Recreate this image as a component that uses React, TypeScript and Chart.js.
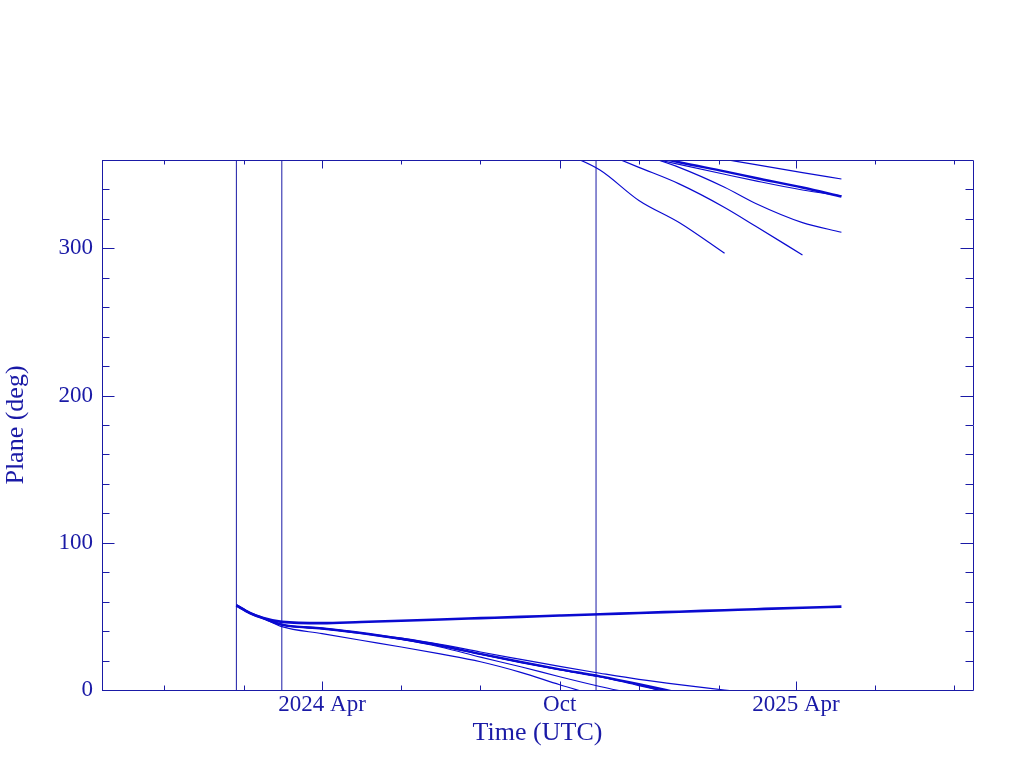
import { useEffect, useRef } from "react";
import { Chart, registerables } from "chart.js";

Chart.register(...registerables);

// ---------- data ----------
const dates = [
  "2024-01-26", "2024-02-05", "2024-02-15", "2024-03-01", "2024-04-01", "2024-05-01",
  "2024-06-01", "2024-07-01", "2024-08-01", "2024-09-01", "2024-10-01", "2024-11-01",
  "2024-12-01", "2025-01-01", "2025-02-05", "2025-03-01", "2025-04-06", "2025-05-06",
];

const planeE = [57.5, 52.5, 49.0, 46.3, 45.4, 46.2, 47.0, 47.9, 48.8, 49.7, 50.6, 51.5, 52.3, 53.2, 54.2, 54.9, 55.9, 56.6];

const planeALow = [57.5, 52.5, 49.0, 43.0, 38.3, 33.8, 29.2, 24.5, 19.2, 12.0, 3.6, -4.5, null, null, null, null, null, null];
const planeAHigh = [null, null, null, null, null, null, null, null, null, null, 366.0, 353.2, 332.5, 317.5, 296.6, null, null, null];

const planeBLow = [57.5, 52.5, 49.0, 44.2, 41.6, 38.3, 34.3, 29.2, 22.3, 15.8, 9.0, 2.4, -3.2, null, null, null, null, null];
const planeBHigh = [null, null, null, null, null, null, null, null, null, null, null, 365.9, 355.0, 343.8, 327.8, 315.0, 295.5, null];

const planeCLow = [57.5, 52.5, 49.0, 44.4, 41.8, 38.8, 34.8, 30.2, 24.5, 19.0, 14.0, 9.3, 4.0, -2.0, null, null, null, null];
const planeCHigh = [null, null, null, null, null, null, null, null, null, null, null, null, 364.7, 358.5, 352.3, 347.8, 341.3, 335.2];

const planeFLow = [57.5, 52.5, 49.0, 44.4, 41.8, 38.7, 34.6, 30.0, 24.3, 18.8, 13.8, 9.0, 3.6, -4.5, null, null, null, null];
const planeFHigh = [null, null, null, null, null, null, null, null, null, null, null, null, 364.4, 355.0, 341.5, 330.5, 317.5, 310.9];

const planeGLow = [57.5, 52.5, 49.0, 44.3, 41.7, 38.7, 34.7, 30.1, 24.4, 18.9, 13.9, 9.1, 3.0, -3.0, null, null, null, null];
const planeGHigh = [null, null, null, null, null, null, null, null, null, null, null, null, 363.0, 357.0, 350.3, 345.8, 339.6, 335.6];

const planeDLow = [57.5, 52.5, 49.0, 44.5, 42.0, 38.9, 35.2, 31.0, 25.8, 20.8, 16.0, 11.4, 7.2, 3.6, 0.0, -2.5, null, null];
const planeDHigh = [null, null, null, null, null, null, null, null, null, null, null, null, null, null, 360.5, 356.8, 351.4, 347.1];

const eventDates = ["2024-01-26", "2024-03-01", "2024-10-29"];

const xTickDates = [
  "2023-12-01", "2024-02-01", "2024-04-01", "2024-06-01", "2024-08-01", "2024-10-01",
  "2024-12-01", "2025-02-01", "2025-04-01", "2025-06-01", "2025-08-01",
];
const xLabelDates = ["2024-04-01", "2024-10-01", "2025-04-01"];
const xLabels = ["2024 Apr", "Oct", "2025 Apr"];
const yLabelValues = [0, 100, 200, 300];
const yMinorStep = 20;
const yMin = 0;
const yMax = 360;
const xMinDate = "2023-10-14T12:00:00Z";
const xMaxDate = "2025-08-15T08:00:00Z";

// ---------- styling ----------
const LINE = "#0a0ad0";
const FRAME = "#1a1aa6";
const FONT = "'Liberation Serif', 'DejaVu Serif', serif";

const ms = (d: string) => Date.parse(d.length > 10 ? d : d + "T00:00:00Z");

const toPoints = (vals: (number | null)[]) =>
  dates.map((d, i) => ({ x: ms(d), y: vals[i] }));

const seriesList: { vals: (number | null)[]; width: number }[] = [
  { vals: planeE, width: 2.6 },
  { vals: planeALow, width: 1.2 },
  { vals: planeAHigh, width: 1.2 },
  { vals: planeBLow, width: 1.2 },
  { vals: planeBHigh, width: 1.2 },
  { vals: planeCLow, width: 2.4 },
  { vals: planeCHigh, width: 2.4 },
  { vals: planeFLow, width: 1.2 },
  { vals: planeFHigh, width: 1.2 },
  { vals: planeGLow, width: 1.2 },
  { vals: planeGHigh, width: 1.2 },
  { vals: planeDLow, width: 1.2 },
  { vals: planeDHigh, width: 1.2 },
];

const framePlugin = {
  id: "pgframe",
  afterDatasetsDraw(chart: any) {
    const { ctx, chartArea } = chart;
    const { left, right, top, bottom } = chartArea;
    const xs = chart.scales.x;
    const ys = chart.scales.y;
    ctx.save();
    ctx.strokeStyle = FRAME;
    ctx.lineWidth = 1;
    ctx.beginPath();
    ctx.rect(Math.round(left) + 0.5, Math.round(top) + 0.5, Math.round(right - left), Math.round(bottom - top));
    ctx.stroke();
    ctx.beginPath();
    for (const d of xTickDates) {
      const px = Math.round(xs.getPixelForValue(ms(d))) + 0.5;
      const len = xLabelDates.includes(d) ? 8.5 : 4.5;
      ctx.moveTo(px, bottom);
      ctx.lineTo(px, bottom - len);
      ctx.moveTo(px, top);
      ctx.lineTo(px, top + len);
    }
    for (let v = yMin; v <= yMax; v += yMinorStep) {
      const py = Math.round(ys.getPixelForValue(v)) + 0.5;
      const len = v % 100 === 0 ? 12.5 : 7.5;
      ctx.moveTo(left, py);
      ctx.lineTo(left + len, py);
      ctx.moveTo(right, py);
      ctx.lineTo(right - len, py);
    }
    ctx.stroke();
    ctx.restore();
  },
};

export default function App() {
  const ref = useRef<HTMLCanvasElement>(null);
  useEffect(() => {
    const datasets: any[] = seriesList.map((s) => ({
      data: toPoints(s.vals),
      borderColor: LINE,
      borderWidth: s.width,
      pointRadius: 0,
      fill: false,
      spanGaps: false,
      cubicInterpolationMode: "monotone",
    }));
    for (const d of eventDates) {
      datasets.push({
        data: [
          { x: ms(d), y: yMin },
          { x: ms(d), y: yMax },
        ],
        borderColor: FRAME,
        borderWidth: 1,
        pointRadius: 0,
        fill: false,
      });
    }
    const chart = new Chart(ref.current!, {
      type: "line",
      data: { datasets },
      options: {
        animation: false,
        responsive: false,
        devicePixelRatio: 1,
        parsing: false as any,
        layout: { padding: { top: 160, right: 51, bottom: 0, left: 0 } },
        plugins: { legend: { display: false }, tooltip: { enabled: false } },
        scales: {
          x: {
            type: "linear",
            position: "bottom",
            min: ms(xMinDate),
            max: ms(xMaxDate),
            grid: { display: false, drawTicks: false },
            border: { display: false },
            afterBuildTicks: (scale: any) => {
              scale.ticks = xLabelDates.map((d) => ({ value: ms(d) }));
            },
            afterFit: (scale: any) => {
              scale.height = 78;
            },
            ticks: {
              autoSkip: false,
              maxRotation: 0,
              padding: 1,
              color: FRAME,
              font: { family: FONT, size: 23 },
              callback: (_v: any, i: number) => xLabels[i],
            },
            title: {
              display: true,
              text: "Time (UTC)",
              color: FRAME,
              font: { family: FONT, size: 26 },
              padding: { top: 0, bottom: 19 },
            },
          },
          y: {
            type: "linear",
            min: yMin,
            max: yMax,
            grid: { display: false, drawTicks: false },
            border: { display: false },
            afterBuildTicks: (scale: any) => {
              scale.ticks = yLabelValues.map((v) => ({ value: v }));
            },
            afterFit: (scale: any) => {
              scale.width = 102;
            },
            ticks: {
              padding: 9,
              color: FRAME,
              font: { family: FONT, size: 23 },
              callback: (v: any) => String(v),
            },
            title: {
              display: true,
              text: "Plane (deg)",
              color: FRAME,
              font: { family: FONT, size: 26 },
              padding: { top: 1, bottom: 0 },
            },
          },
        },
      } as any,
      plugins: [framePlugin],
    });
    return () => chart.destroy();
  }, []);
  return (
    <div style={{ position: "fixed", left: 0, top: 0, width: 1024, height: 768, background: "#fff" }}>
      <canvas ref={ref} width={1024} height={768} style={{ display: "block", width: 1024, height: 768 }} />
    </div>
  );
}
